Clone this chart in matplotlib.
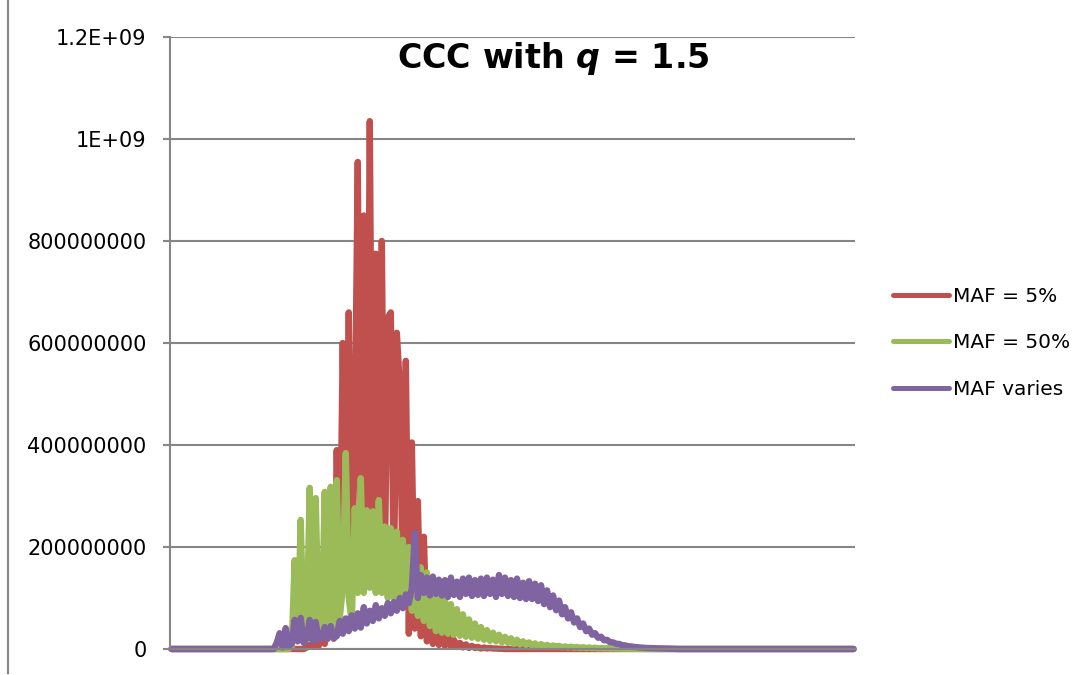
import numpy as np
import matplotlib
matplotlib.use('Agg')
import matplotlib.pyplot as plt
from matplotlib.lines import Line2D

N = 228

# values in millions
red = [0] * 45 + [
    3, 8, 4, 15, 6, 30, 10, 45, 160, 20,
    390, 120, 600, 150, 660, 120, 420, 955, 150, 850,
    130, 1035, 160, 775, 140, 800, 150, 650, 660, 120,
    620, 515, 100, 565, 30, 405, 40, 290, 25, 220,
    15, 60, 10, 45, 8, 35, 6, 25, 5, 18,
    4, 12, 3, 9, 2, 6, 2, 4, 1, 3,
    1, 2, 1, 1, 0.5, 0.5]
green = [0] * 40 + [
    5, 174, 20, 253, 25, 30, 316, 30, 296, 35,
    40, 308, 40, 318, 45, 331, 60, 120, 384, 100,
    50, 276, 110, 335, 110, 272, 120, 270, 110, 292,
    110, 240, 100, 237, 100, 230, 95, 214, 90, 200,
    75, 180, 65, 160, 55, 150, 45, 130, 35, 110,
    32, 98, 30, 88, 28, 78, 26, 68, 24, 58,
    22, 50, 20, 43, 18, 37, 16, 32, 15, 28,
    13, 24, 12, 21, 10, 18, 9, 15, 8, 13,
    7, 11, 6, 9.5, 5, 8, 4.5, 7, 4, 6,
    3.5, 5, 3, 4.5, 2.5, 4, 2, 3.5, 1.8, 3,
    1.5, 2.5, 1.2, 2, 1, 1.6, 0.8, 1.3, 0.6, 1,
    0.5, 0.8, 0.4, 0.6, 0.3, 0.4, 0.2, 0.2, 0.1]
purple = [0] * 35 + [
    12, 31, 3, 41, 5, 10, 57, 15, 61, 12,
    20, 57, 15, 53, 18, 22, 43, 20, 45, 22,
    25, 55, 30, 60, 35, 66, 40, 70, 42, 82,
    50, 75, 55, 86, 60, 80, 65, 90, 70, 92,
    75, 100, 80, 107, 90, 120, 228, 100, 145, 110,
    140, 105, 142, 108, 136, 105, 135, 102, 140, 106,
    132, 102, 138, 108, 140, 104, 135, 106, 138, 104,
    140, 108, 136, 102, 145, 108, 140, 104, 135, 102,
    138, 100, 130, 98, 133, 98, 128, 94, 125, 88,
    115, 82, 105, 76, 95, 68, 82, 60, 72, 52,
    60, 43, 50, 35, 40, 28, 31, 22, 24, 17,
    18, 13, 13, 10, 10, 7.5, 7, 5.5, 5, 4,
    3.5, 3, 2.5, 2, 1.8, 1.5, 1.2, 1, 0.8, 0.6,
    0.5, 0.3, 0.2, 0.1]
red += [0] * (N - len(red))
green += [0] * (N - len(green))
purple += [0] * (N - len(purple))

labels = ['MAF = 5%', 'MAF = 50%', 'MAF varies']
colors = ['#C0504D', '#9BBB59', '#8064A2']
yticks = [0, 2e8, 4e8, 6e8, 8e8, 1e9, 1.2e9]
ytick_labels = ['0', '200000000', '400000000', '600000000', '800000000', '1E+09', '1.2E+09']

plt.rcParams['font.family'] = ['DejaVu Sans']
plt.rcParams['mathtext.fontset'] = 'dejavusans'

W, H = 1091, 675
fig = plt.figure(figsize=(W / 100, H / 100), dpi=100)
ax = fig.add_axes([170 / W, 1 - 649 / H, (855 - 170) / W, (649 - 37) / H])

x = np.arange(N)
for series, lab, col in zip([red, green, purple], labels, colors):
    ax.plot(x, np.array(series) * 1e6, color=col, lw=4.6, label=lab,
            solid_joinstyle='round', solid_capstyle='round', clip_on=False)

ax.set_xlim(-0.5, N - 0.5)
ax.set_ylim(0, 1.2e9)
ax.set_yticks(yticks)
ax.set_yticklabels(ytick_labels, fontsize=15)
ax.set_xticks([])
ax.yaxis.grid(True, color='#868686', lw=1.5)
ax.set_axisbelow(True)
for s in ['top', 'right']:
    ax.spines[s].set_visible(False)
for s in ['left', 'bottom']:
    ax.spines[s].set_color('#868686')
    ax.spines[s].set_linewidth(1.5)
ax.tick_params(axis='y', direction='out', length=5, width=1.5, color='#868686', pad=12)

fig.text(553 / W, 1 - 68 / H, r'CCC with $\mathbfit{q}$ = 1.5', ha='center', va='baseline',
         fontsize=24, fontweight='bold')

leg = fig.legend(loc='center left', bbox_to_anchor=(893 / W, 1 - 343 / H), frameon=False,
                 fontsize=14.5, handlelength=2.8, handletextpad=0.2, labelspacing=1.35,
                 borderpad=0, borderaxespad=0)
for h in leg.get_lines():
    h.set_linewidth(3.6)

fig.add_artist(Line2D([8 / W, 8 / W], [0.003, 1], color='#868686', lw=1.5,
                      transform=fig.transFigure))

fig.savefig('out.png', dpi=100)
